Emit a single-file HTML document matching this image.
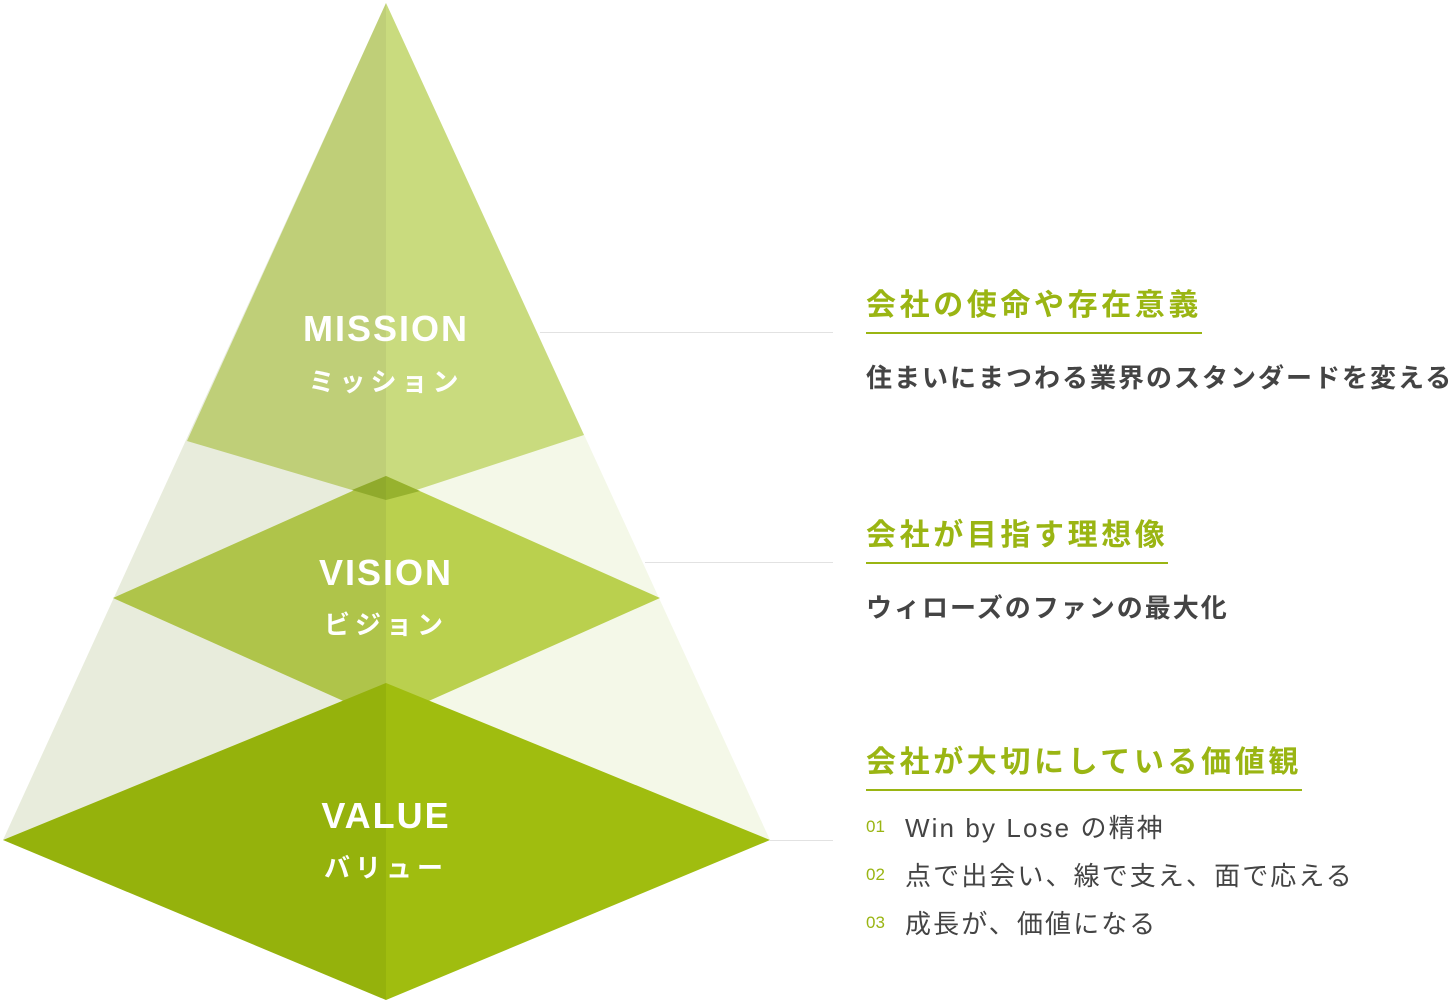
<!DOCTYPE html>
<html><head><meta charset="utf-8"><style>
body{margin:0;width:1454px;height:1000px;background:#fff;position:relative;overflow:hidden;font-family:"Liberation Sans","Noto Sans CJK JP",sans-serif}
.t{position:absolute;white-space:nowrap}
.h{color:#9ab513;font-weight:bold;font-size:30px;letter-spacing:3.6px;padding-bottom:6px;border-bottom:2px solid #9ab513;line-height:40px}
.b{color:#444;font-weight:bold;font-size:26px;letter-spacing:2px;line-height:36px}
.n{color:#9ab513;font-size:17px}
.i{color:#444;font-size:26px;letter-spacing:2.1px;line-height:36px}
.p{position:absolute;color:#fff;font-weight:bold;text-align:center;width:300px;left:236px}
</style></head><body>
<svg width="1454" height="1000" style="position:absolute;left:0;top:0">
<polygon points="386,3 386,1000 3,840" fill="#e8ecdc"/>
<polygon points="386,3 386,1000 770,840" fill="#f4f8e8"/>
<polygon points="386,3 187,441 386,500" fill="#bfcf78"/>
<polygon points="386,3 584,435 386,500" fill="#c9db7e"/>
<polygon points="386,476 113,598 386,720" fill="#afc44a"/>
<polygon points="386,476 660,598 386,720" fill="#bad04e"/>
<polygon points="386,476 352,490 386,500" fill="#90aa2c"/>
<polygon points="386,476 420,491 386,500" fill="#97b22e"/>
<polygon points="386,683 3,840 386,1000" fill="#95b20c"/>
<polygon points="386,683 770,840 386,1000" fill="#a0bd0f"/>
<line x1="540" y1="332.5" x2="833" y2="332.5" stroke="#e2e2e2" stroke-width="1"/>
<line x1="645" y1="562.5" x2="833" y2="562.5" stroke="#e2e2e2" stroke-width="1"/>
<line x1="770" y1="840.5" x2="833" y2="840.5" stroke="#e2e2e2" stroke-width="1"/>
</svg>
<div class="p" style="top:308px;font-size:36px;letter-spacing:2px">MISSION</div>
<div class="p" style="top:362px;font-size:26px;letter-spacing:5px">ミッション</div>
<div class="p" style="top:552px;font-size:36px;letter-spacing:2px">VISION</div>
<div class="p" style="top:605px;font-size:26px;letter-spacing:5px">ビジョン</div>
<div class="p" style="top:795px;font-size:36px;letter-spacing:2px">VALUE</div>
<div class="p" style="top:848px;font-size:26px;letter-spacing:5px">バリュー</div>

<div class="t h" style="left:866px;top:286px">会社の使命や存在意義</div>
<div class="t b" style="left:866px;top:360px">住まいにまつわる業界のスタンダードを変える</div>
<div class="t h" style="left:866px;top:516px">会社が目指す理想像</div>
<div class="t b" style="left:866px;top:590px">ウィローズのファンの最大化</div>
<div class="t h" style="left:866px;top:743px">会社が大切にしている価値観</div>
<div class="t n" style="left:866px;top:817px">01</div>
<div class="t i" style="left:905px;top:810px">Win by Lose の精神</div>
<div class="t n" style="left:866px;top:865px">02</div>
<div class="t i" style="left:905px;top:858px">点で出会い、線で支え、面で応える</div>
<div class="t n" style="left:866px;top:913px">03</div>
<div class="t i" style="left:905px;top:906px">成長が、価値になる</div>
</body></html>
